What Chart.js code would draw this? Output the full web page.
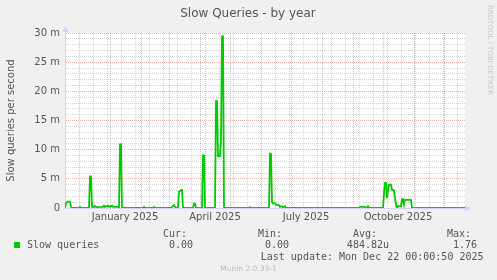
<!DOCTYPE html>
<html>
<head>
<meta charset="utf-8">
<script src="https://cdn.jsdelivr.net/npm/chart.js@4.4.1/dist/chart.umd.min.js"></script>
<style>
  html, body { margin: 0; padding: 0; background: #f0f0f0; }
</style>
</head>
<body>
<canvas id="slowChart" width="497" height="280"></canvas>
<script>
/* ------------------------------
 Munin "Slow Queries - by year"
 x = days since Nov 17 2024 (400 days shown), y = milli-queries per second
---------------------------------*/
var days = [
  0, 1, 2, 3, 5, 6, 7,
  14, 15, 16,
  24, 25, 26, 27, 28, 30, 31, 38, 39, 40, 43, 44, 47, 48, 53,
  54, 55, 56, 57,
  78, 79, 80, 88, 89, 90,
  106, 107, 109, 110, 111,
  113, 114, 115, 116, 117, 118,
  128, 129, 130, 131,
  137, 138, 139, 140,
  150, 151, 152, 153, 155, 156, 157, 158, 159,
  184, 185, 186,
  204, 205, 206, 207, 208, 209, 210, 211, 214, 215, 217, 218, 220, 221,
  294, 295, 300, 301, 302, 303, 304,
  318, 319, 320, 321, 322, 323, 324, 326, 327, 329, 331, 332, 333, 336, 337, 338, 339, 340, 346, 347, 400
];
var slowQueries = [
  0, 0.8, 1.0, 1.1, 1.1, 0.2, 0,
  0, 0.2, 0,
  0, 5.4, 5.4, 0.2, 0.1, 0.35, 0.15, 0.2, 0.4, 0.2, 0.4, 0.2, 0.4, 0.2, 0.2,
  0, 10.9, 10.9, 0,
  0, 0.2, 0, 0, 0.2, 0,
  0, 0.2, 0.5, 0.2, 0,
  0, 2.8, 2.9, 3.1, 3.1, 0,
  0, 0.75, 0.75, 0,
  0, 9.0, 9.0, 0,
  0, 18.3, 18.3, 8.9, 8.9, 11.5, 29.4, 29.4, 0,
  0, 0.15, 0,
  0, 9.3, 9.3, 1.0, 0.75, 0.85, 0.85, 0.5, 0.5, 0.2, 0.3, 0.1, 0.3, 0,
  0, 0.2, 0.2, 0, 0, 0.3, 0,
  0, 2.5, 4.3, 4.3, 1.7, 3.0, 4.0, 4.0, 3.1, 3.0, 0.4, 0, 0.3, 0.3, 1.5, 1.5, 0.6, 1.4, 1.4, 0, 0
];

// month starts (major grid) and their labels
var monthDays = [14, 45, 76, 104, 135, 165, 196, 226, 257, 288, 318, 349, 379];
var monthLabels = ["", "January 2025", "", "", "April 2025", "", "", "July 2025", "", "", "October 2025", "", ""];
// minor grid, every second sunday
var minorDays = [14, 28, 42, 56, 70, 84, 98, 112, 126, 140, 154, 168, 182, 196, 210, 224, 238, 252, 266, 280, 294, 308, 322, 336, 350, 364, 378, 392];
var yMajor = [0, 5, 10, 15, 20, 25, 30];

var legendHead = ["Cur:", "Min:", "Avg:", "Max:"];
var legendVals = ["0.00", "0.00", "484.82u", "1.76"];
var lastUpdate = "Last update: Mon Dec 22 00:00:50 2025";

var gridMinor = "rgba(140,140,140,0.35)";
var gridMajor = "rgba(230,60,60,0.4)";
var axisColor = "#cfd6f8";
var textColor = "#555";

Chart.defaults.font.family = "DejaVu Sans";

var xTicks = minorDays.concat(monthDays.filter(function (d) { return minorDays.indexOf(d) < 0; }))
  .sort(function (a, b) { return a - b; });

var muninDeco = {
  id: "muninDeco",
  beforeDraw: function (chart) {
    var ctx = chart.ctx, a = chart.chartArea;
    ctx.save();
    ctx.fillStyle = "#f0f0f0";
    ctx.fillRect(0, 0, chart.width, chart.height);
    ctx.fillStyle = "#fff";
    ctx.fillRect(a.left, a.top, a.right - a.left, a.bottom - a.top);
    ctx.restore();
  },
  afterDraw: function (chart) {
    var ctx = chart.ctx, a = chart.chartArea;
    ctx.save();
    // title
    ctx.fillStyle = textColor;
    ctx.font = "12px 'DejaVu Sans'";
    ctx.textAlign = "center";
    ctx.textBaseline = "middle";
    ctx.fillText("Slow Queries - by year", 248, 13.5);

    // axis arrows
    ctx.fillStyle = axisColor;
    ctx.beginPath();
    ctx.moveTo(a.left + 0.5, a.top - 7);
    ctx.lineTo(a.left - 2.5, a.top - 1);
    ctx.lineTo(a.left + 3.5, a.top - 1);
    ctx.closePath();
    ctx.fill();
    ctx.fillRect(a.left, a.top - 1, 1, 2);
    ctx.beginPath();
    ctx.moveTo(a.right + 6, a.bottom + 0.5);
    ctx.lineTo(a.right, a.bottom - 2.5);
    ctx.lineTo(a.right, a.bottom + 3.5);
    ctx.closePath();
    ctx.fill();

    // rrdtool watermark
    ctx.save();
    ctx.translate(489.5, 5);
    ctx.rotate(Math.PI / 2);
    ctx.fillStyle = "#c8c8c8";
    ctx.font = "7px 'DejaVu Sans'";
    ctx.textBaseline = "middle";
    ctx.textAlign = "left";
    ctx.fillText("RRDTOOL / TOBI OETIKER", 0, 0);
    ctx.restore();

    // legend table
    ctx.fillStyle = "#00cc00";
    ctx.fillRect(14, 242, 6, 6);
    ctx.fillStyle = textColor;
    ctx.font = "10px 'DejaVu Sans Mono'";
    ctx.textBaseline = "middle";
    ctx.textAlign = "left";
    ctx.fillText("Slow queries", 27, 245.5);
    var headX = [163, 258, 353, 447];
    var valRight = [193, 289, 389, 477];
    for (var i = 0; i < 4; i++) {
      ctx.textAlign = "left";
      ctx.fillText(legendHead[i], headX[i], 234);
      ctx.textAlign = "right";
      ctx.fillText(legendVals[i], valRight[i], 245.5);
    }
    ctx.textAlign = "right";
    ctx.fillText(lastUpdate, 483.5, 257.5);

    ctx.fillStyle = "#bbb";
    ctx.font = "7.5px 'DejaVu Sans'";
    ctx.textAlign = "center";
    ctx.fillText("Munin 2.0.33-1", 248.5, 269.5);
    ctx.restore();
  }
};

var chartS = new Chart(document.getElementById("slowChart"), {
  type: "line",
  data: {
    datasets: [
      {
        label: "Slow queries",
        data: days.map(function (d, i) { return { x: d, y: slowQueries[i] }; }),
        borderColor: "#00cc00",
        backgroundColor: "#00cc00",
        borderWidth: 1.8,
        pointRadius: 0,
        tension: 0,
        fill: false,
      },
    ],
  },
  options: {
    responsive: false,
    animation: false,
    devicePixelRatio: 1,
    layout: { padding: { left: 0, right: 32, top: 33, bottom: 0 } },
    plugins: {
      legend: { display: false },
      tooltip: { enabled: false },
      title: { display: false },
    },
    scales: {
      x: {
        type: "linear",
        min: 0,
        max: 400,
        afterBuildTicks: function (s) {
          s.ticks = xTicks.map(function (v) { return { value: v }; });
        },
        afterFit: function (s) { s.height = 72; },
        grid: {
          drawTicks: false,
          color: function (c) {
            return c.tick && monthDays.indexOf(c.tick.value) >= 0 ? gridMajor : gridMinor;
          },
        },
        border: { display: true, color: axisColor, dash: [1, 1] },
        ticks: {
          autoSkip: false,
          maxRotation: 0,
          padding: 3,
          labelOffset: 15,
          color: textColor,
          font: { size: 10 },
          callback: function (v) {
            var k = monthDays.indexOf(v);
            return k >= 0 ? monthLabels[k] : "";
          },
        },
      },
      y: {
        min: 0,
        max: 30,
        afterFit: function (s) { s.width = 65; },
        grid: {
          drawTicks: false,
          color: function (c) {
            return c.tick && yMajor.indexOf(c.tick.value) >= 0 ? gridMajor : gridMinor;
          },
        },
        border: { display: true, color: axisColor, dash: [1, 1] },
        ticks: {
          stepSize: 1,
          autoSkip: false,
          padding: 5,
          color: textColor,
          font: { size: 10 },
          callback: function (v) {
            if (yMajor.indexOf(v) < 0) return "";
            return v === 0 ? "0" : v + " m";
          },
        },
        title: {
          display: true,
          text: "Slow queries per second",
          color: textColor,
          font: { size: 10 },
          padding: { top: 5, bottom: 0 },
        },
      },
    },
  },
  plugins: [muninDeco],
});
</script>
</body>
</html>
